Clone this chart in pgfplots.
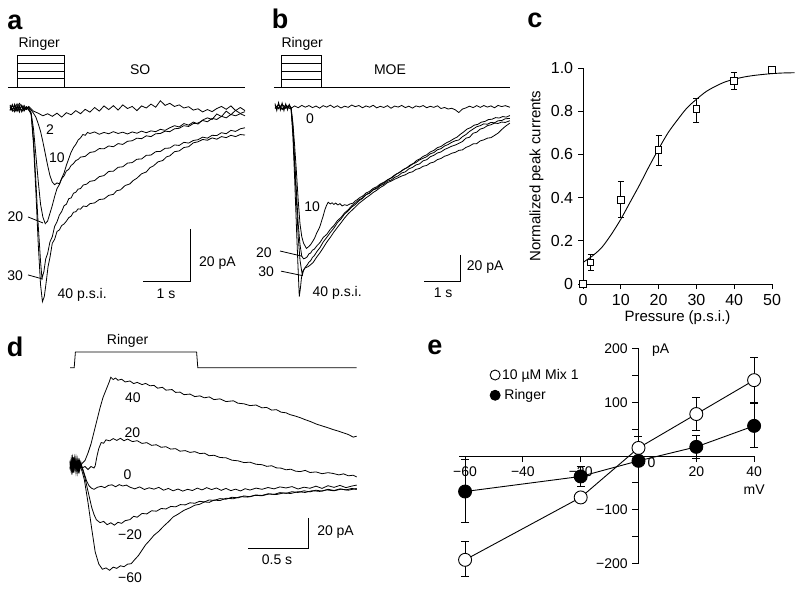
\documentclass[border=0pt]{standalone}
\usepackage{fontspec}
\setmainfont{Liberation Sans}
\usepackage{pgfplots}
\pgfplotsset{compat=1.18}
\begin{document}
\fontsize{14}{16}\selectfont
\begin{tikzpicture}[x=1pt,y=1pt]
\path[use as bounding box] (0,0) rectangle (800,590);
\pgfplotsset{
  trace/.style={scale only axis, hide axis, clip=false, anchor=south west},
  tr/.style={black, line width=0.8pt, no markers},
  /pgf/number format/assume math mode=true,
}
% panel letters
\node[font=\fontsize{27}{27}\selectfont\bfseries] at (15,568) {a};
\node[font=\fontsize{27}{27}\selectfont\bfseries] at (280,571) {b};
\node[font=\fontsize{27}{27}\selectfont\bfseries] at (535,570) {c};
\node[font=\fontsize{27}{27}\selectfont\bfseries] at (15,243) {d};
\node[font=\fontsize{27}{27}\selectfont\bfseries] at (435,243) {e};

% ================= panel a =================
\begin{axis}[trace, at={(10pt,274pt)}, width=235pt, height=234pt,
  xmin=0, xmax=5, ymin=-80, ymax=10]
\addplot[tr] coordinates {(-0.043,8.1)(5.0,8.1)};
\addplot[tr] coordinates {(0.149,8.1)(0.149,20.4)(1.149,20.4)(1.149,8.1)};
\addplot[tr] coordinates {(0.149,17.3)(1.149,17.3)};
\addplot[tr] coordinates {(0.149,14.2)(1.149,14.2)};
\addplot[tr] coordinates {(0.149,11.2)(1.149,11.2)};
\node at (axis cs:0.62,24.6) {Ringer};
\node at (axis cs:2.77,14.6) {SO};
% trace 2
\addplot[tr] coordinates {(0,0.5)(0.1,-1.5)(0.2,1.8)(0.3,-0.8)(0.4,0.6)(0.5,-1.2)(0.6,-2.0)(0.7,-3.0)(0.8,-2.2)(0.9,-3.2)(1.0,-2.0)(1.1,-3.5)(1.2,-1.8)(1.3,-2.6)(1.4,-1.0)(1.5,-2.2)(1.6,-0.5)(1.7,-1.6)(1.8,0.2)(1.9,-1.2)(2.0,0.8)(2.1,-0.6)(2.2,0.9)(2.3,-0.8)(2.4,1.2)(2.5,-0.2)(2.6,0.6)(2.7,-1.0)(2.8,0.8)(2.9,0.0)(3.0,1.5)(3.1,0.3)(3.2,2.8)(3.3,1.0)(3.4,1.8)(3.5,0.6)(3.6,1.2)(3.7,0.0)(3.8,0.5)(3.9,-0.8)(4.0,-0.3)(4.1,-1.5)(4.2,-0.6)(4.3,-1.4)(4.4,-0.2)(4.5,0.6)(4.6,-0.5)(4.7,0.8)(4.8,-1.0)(4.9,0.2)(5.0,-1.0)};
% trace 10
\addplot[tr] coordinates {(0,0.5)(0.05,-1.2)(0.1,1.5)(0.15,-0.8)(0.2,0.9)(0.25,-1.5)(0.3,0.3)(0.35,-0.6)(0.4,0.2)(0.45,-0.8)(0.5,-2)(0.55,-3.5)(0.6,-6)(0.65,-9)(0.7,-13)(0.75,-17.5)(0.8,-22)(0.85,-26)(0.9,-28.5)(0.95,-29.5)(1.0,-28.8)(1.05,-29.2)(1.1,-27)(1.15,-25)(1.2,-22)(1.25,-19.5)(1.3,-17)(1.35,-15.2)(1.4,-14)(1.45,-12.3)(1.5,-11.5)(1.55,-10.2)(1.6,-10.5)(1.65,-9.4)(1.7,-9.8)(1.8,-9.2)(1.9,-10.1)(2.0,-9.4)(2.1,-9.9)(2.2,-9.1)(2.3,-9.8)(2.4,-9.3)(2.5,-10.0)(2.6,-9.2)(2.7,-9.7)(2.8,-8.9)(2.9,-9.5)(3.0,-8.8)(3.1,-9.1)(3.2,-8.2)(3.3,-8.6)(3.4,-7.6)(3.5,-6.8)(3.6,-7.3)(3.7,-6.0)(3.8,-6.6)(3.9,-5.4)(4.0,-6.2)(4.1,-4.6)(4.2,-3.8)(4.3,-4.4)(4.4,-2.3)(4.5,-3.3)(4.6,-1.2)(4.7,-2.6)(4.8,-0.9)(4.9,-2.1)(5.0,-1.4)};
% trace 20
\addplot[tr] coordinates {(0,-0.8)(0.05,1.4)(0.1,-1.0)(0.15,0.6)(0.2,-1.6)(0.25,1.1)(0.3,-0.4)(0.35,0.5)(0.4,-0.9)(0.45,-2)(0.5,-8)(0.55,-18)(0.6,-28)(0.65,-37)(0.7,-42)(0.75,-44.5)(0.8,-43.5)(0.85,-40.5)(0.9,-37.5)(0.95,-34)(1.0,-31)(1.05,-29.5)(1.1,-27.2)(1.15,-26.1)(1.2,-24.2)(1.25,-23.6)(1.3,-22.1)(1.35,-21.4)(1.4,-20.2)(1.45,-19.8)(1.5,-18.9)(1.6,-18.6)(1.7,-17.1)(1.8,-16.8)(1.9,-15.6)(2.0,-15.7)(2.1,-14.6)(2.2,-14.9)(2.3,-13.7)(2.4,-14.0)(2.5,-12.8)(2.6,-12.6)(2.7,-11.6)(2.8,-11.8)(2.9,-10.7)(3.0,-11.0)(3.1,-9.9)(3.2,-9.8)(3.3,-8.9)(3.4,-9.1)(3.5,-8.0)(3.6,-7.8)(3.7,-6.8)(3.8,-7.1)(3.9,-6.0)(4.0,-5.8)(4.1,-4.8)(4.2,-5.3)(4.3,-4.0)(4.4,-4.4)(4.5,-3.2)(4.6,-3.8)(4.7,-2.5)(4.8,-3.0)(4.9,-2.2)(5.0,-3.0)};
% trace 30
\addplot[tr] coordinates {(0,1.2)(0.05,-0.6)(0.1,0.8)(0.15,-1.3)(0.2,0.4)(0.25,-0.9)(0.3,1.0)(0.35,-0.5)(0.4,0.3)(0.45,-2)(0.5,-12)(0.55,-28)(0.6,-45)(0.65,-59)(0.68,-65.5)(0.72,-63)(0.76,-58)(0.8,-56)(0.85,-51.5)(0.9,-49.5)(0.95,-45.5)(1.0,-43.8)(1.05,-41.2)(1.1,-39.8)(1.15,-37.6)(1.2,-37.0)(1.25,-34.9)(1.3,-34.6)(1.35,-32.8)(1.4,-32.4)(1.45,-31.2)(1.5,-31.0)(1.56,-29.6)(1.63,-29.3)(1.7,-28.2)(1.8,-27.9)(1.9,-26.4)(2.0,-26.0)(2.1,-24.4)(2.2,-24.3)(2.3,-22.8)(2.4,-22.6)(2.5,-21.2)(2.6,-21.0)(2.7,-19.7)(2.8,-19.6)(2.9,-18.2)(3.0,-18.1)(3.1,-16.8)(3.2,-16.7)(3.3,-15.5)(3.4,-15.4)(3.5,-14.2)(3.6,-14.4)(3.7,-13.2)(3.8,-13.5)(3.9,-12.5)(4.0,-12.2)(4.1,-11.2)(4.2,-11.6)(4.3,-10.5)(4.4,-10.6)(4.5,-9.5)(4.6,-9.9)(4.7,-8.6)(4.8,-9.0)(4.9,-8.0)(5.0,-7.6)};
% trace 40
\addplot[tr] coordinates {(0,-1.0)(0.05,0.9)(0.1,-0.4)(0.15,1.6)(0.2,-0.7)(0.25,0.8)(0.3,-1.2)(0.35,0.4)(0.4,-0.6)(0.45,-2.5)(0.5,-14)(0.55,-32)(0.6,-52)(0.65,-68)(0.69,-74.5)(0.73,-72.5)(0.77,-67)(0.81,-61)(0.85,-57.5)(0.9,-52)(0.95,-50.5)(1.0,-47.5)(1.05,-46.9)(1.1,-45.2)(1.15,-44.6)(1.2,-43.5)(1.25,-42.2)(1.3,-41.6)(1.35,-40.1)(1.4,-39.9)(1.45,-38.8)(1.5,-38.9)(1.56,-37.7)(1.63,-37.9)(1.7,-36.8)(1.8,-36.5)(1.9,-35.2)(2.0,-35.0)(2.1,-33.6)(2.2,-33.2)(2.27,-31.8)(2.35,-31.5)(2.45,-29.8)(2.55,-29.2)(2.62,-27.9)(2.7,-27.0)(2.8,-25.3)(2.9,-24.6)(2.98,-22.9)(3.05,-22.3)(3.15,-20.7)(3.25,-20.2)(3.33,-18.8)(3.4,-18.4)(3.5,-16.8)(3.6,-16.5)(3.7,-15.2)(3.8,-14.9)(3.9,-13.4)(4.0,-13.0)(4.1,-12.1)(4.2,-12.4)(4.3,-11.5)(4.4,-12.0)(4.5,-11.0)(4.6,-11.4)(4.7,-10.5)(4.8,-11.0)(4.9,-10.2)(5.0,-10.4)};
% labels
\node at (axis cs:0.85,-8.5) {2};
\node at (axis cs:1.0,-19) {10};
\node at (axis cs:0.117,-41.9) {20};
\addplot[tr] coordinates {(0.383,-41.9)(0.70,-44.2)};
\node at (axis cs:0.11,-64.6) {30};
\addplot[tr] coordinates {(0.383,-64.2)(0.70,-65.8)};
\node[anchor=west] at (axis cs:0.91,-72) {40 p.s.i.};
\addplot[tr] coordinates {(3.83,-46.5)(3.83,-66.5)(2.83,-66.5)};
\node[anchor=west] at (axis cs:3.92,-59.5) {20 pA};
\node at (axis cs:3.32,-71.5) {1 s};
\end{axis}

% ================= panel b =================
\begin{axis}[trace, at={(275pt,288.3pt)}, width=235.6pt, height=195pt,
  xmin=0, xmax=6.6, ymin=-150, ymax=0]
\addplot[tr] coordinates {(-0.03,15.2)(6.58,15.2)};
\addplot[tr] coordinates {(0.188,15.2)(0.188,39.8)(1.29,39.8)(1.29,15.2)};
\addplot[tr] coordinates {(0.188,33.6)(1.29,33.6)};
\addplot[tr] coordinates {(0.188,27.4)(1.29,27.4)};
\addplot[tr] coordinates {(0.188,21.3)(1.29,21.3)};
\node at (axis cs:0.76,48.2) {Ringer};
\node at (axis cs:3.22,28.2) {MOE};
% trace 0
\addplot[tr] coordinates {(0,2.5)(0.05,-3)(0.1,3.2)(0.15,-2.6)(0.2,2.8)(0.25,-3.1)(0.3,2.2)(0.35,-2.5)(0.4,1.8)(0.45,-1.2)(0.55,0.6)(0.65,-0.8)(0.75,1.0)(0.85,-0.4)(0.95,0.9)(1.05,-0.7)(1.15,0.5)(1.25,-1.1)(1.35,0.8)(1.45,-0.3)(1.55,1.2)(1.65,-0.6)(1.75,0.7)(1.85,-1.0)(1.95,0.4)(2.05,-0.5)(2.15,1.3)(2.25,0.0)(2.35,0.9)(2.45,-0.8)(2.55,0.6)(2.65,-0.4)(2.75,1.1)(2.85,-0.9)(2.95,0.3)(3.05,-0.6)(3.15,0.8)(3.25,-1.2)(3.35,0.5)(3.45,-0.3)(3.55,1.0)(3.65,-0.7)(3.75,0.4)(3.85,-1.1)(3.95,0.6)(4.05,-0.2)(4.15,0.9)(4.25,-0.8)(4.35,0.3)(4.45,-0.5)(4.55,0.7)(4.65,-1.4)(4.75,-0.6)(4.85,-1.8)(4.95,-1.2)(5.05,-2.4)(5.15,-4.5)(5.25,-1.8)(5.35,-0.9)(5.45,0.4)(5.55,-0.7)(5.65,0.8)(5.75,-0.5)(5.85,0.9)(5.95,-0.3)(6.05,0.6)(6.15,-0.8)(6.25,1.0)(6.35,0.1)(6.45,0.8)(6.58,-0.4)};
% trace 10
\addplot[tr] coordinates {(0,-1.5)(0.1,1.8)(0.2,-2.2)(0.3,1.4)(0.4,-1.0)(0.45,-1)(0.5,-12)(0.55,-30)(0.6,-50)(0.65,-72)(0.7,-90)(0.75,-100)(0.8,-105)(0.88,-109)(0.95,-107.5)(1.0,-106)(1.07,-103)(1.12,-100.5)(1.17,-97)(1.22,-94.5)(1.26,-92)(1.31,-87.5)(1.35,-84)(1.4,-79)(1.45,-75.5)(1.49,-73.5)(1.55,-74.8)(1.6,-73.9)(1.65,-75.2)(1.7,-74.1)(1.76,-75.6)(1.82,-74.6)(1.88,-76.3)(1.95,-75.4)(2.02,-76.0)(2.1,-74.8)(2.19,-74.2)(2.25,-72.4)(2.3,-71.6)(2.38,-69.8)(2.45,-68.9)(2.55,-66.4)(2.65,-65.1)(2.75,-62.8)(2.85,-61.6)(2.95,-59.4)(3.05,-58.1)(3.15,-56.5)(3.25,-54.9)(3.31,-54.0)(3.4,-51.8)(3.5,-50.4)(3.6,-48.2)(3.7,-46.8)(3.78,-45.0)(3.88,-43.6)(3.97,-41.3)(4.06,-40.1)(4.15,-38.2)(4.25,-37.0)(4.35,-34.8)(4.45,-33.6)(4.55,-31.5)(4.65,-30.6)(4.71,-29.4)(4.8,-27.8)(4.9,-26.5)(5.0,-24.8)(5.1,-23.4)(5.18,-21.5)(5.28,-19.5)(5.38,-17.2)(5.48,-16.1)(5.58,-14.2)(5.68,-13.6)(5.78,-11.9)(5.88,-11.3)(5.98,-9.9)(6.08,-9.6)(6.18,-8.4)(6.28,-8.7)(6.38,-7.6)(6.48,-8.0)(6.58,-6.8)};
% trace 20
\addplot[tr] coordinates {(0,1.2)(0.1,-1.6)(0.2,2.0)(0.3,-1.3)(0.4,0.9)(0.45,-1)(0.5,-15)(0.55,-40)(0.6,-65)(0.65,-90)(0.7,-106)(0.75,-115)(0.8,-117)(0.85,-116.5)(0.9,-115.5)(0.95,-113.2)(1.0,-112.5)(1.05,-110.3)(1.1,-109.6)(1.18,-106.8)(1.26,-104.5)(1.35,-100.6)(1.45,-98.2)(1.55,-94.3)(1.65,-91.4)(1.75,-87.6)(1.85,-85.2)(1.95,-81.7)(2.05,-79.3)(2.15,-76.2)(2.25,-74.1)(2.35,-71.6)(2.45,-70.2)(2.55,-67.6)(2.65,-66.3)(2.75,-63.8)(2.85,-62.4)(2.95,-60.1)(3.05,-58.6)(3.15,-56.2)(3.25,-54.8)(3.35,-52.6)(3.45,-51.1)(3.55,-49.3)(3.65,-47.6)(3.75,-46.2)(3.85,-44.2)(3.95,-42.9)(4.05,-40.9)(4.15,-39.7)(4.25,-38.4)(4.35,-36.2)(4.45,-35.3)(4.55,-33.1)(4.65,-32.3)(4.75,-30.2)(4.85,-29.1)(4.95,-27.4)(5.05,-26.2)(5.15,-25.6)(5.25,-23.1)(5.35,-21.4)(5.45,-19.0)(5.55,-17.2)(5.65,-15.4)(5.75,-14.6)(5.85,-13.2)(5.95,-13.5)(6.05,-12.1)(6.15,-12.4)(6.25,-10.8)(6.35,-10.6)(6.45,-9.3)(6.58,-9.0)};
% trace 30
\addplot[tr] coordinates {(0,-0.9)(0.1,1.3)(0.2,-1.8)(0.3,0.8)(0.4,-1.2)(0.45,-1.5)(0.5,-18)(0.55,-45)(0.6,-72)(0.65,-100)(0.7,-118)(0.75,-127)(0.77,-129)(0.8,-126)(0.85,-123.5)(0.9,-121.8)(0.95,-119.6)(1.0,-118.4)(1.05,-115.9)(1.1,-114.6)(1.18,-111.2)(1.26,-108.4)(1.35,-104.1)(1.45,-100.5)(1.55,-96.8)(1.65,-93.4)(1.75,-89.2)(1.85,-86.3)(1.95,-82.5)(2.05,-80.2)(2.15,-77.1)(2.25,-75.3)(2.35,-72.4)(2.45,-70.6)(2.55,-67.8)(2.65,-66.5)(2.75,-64.0)(2.85,-63.1)(2.95,-60.7)(3.05,-59.6)(3.15,-57.3)(3.25,-56.5)(3.35,-54.4)(3.45,-53.2)(3.55,-51.0)(3.65,-50.1)(3.75,-47.8)(3.85,-46.7)(3.95,-44.8)(4.05,-44.0)(4.15,-41.6)(4.25,-40.8)(4.35,-38.5)(4.45,-37.4)(4.55,-35.6)(4.65,-34.8)(4.75,-32.9)(4.85,-31.7)(4.95,-30.4)(5.05,-29.5)(5.15,-28.2)(5.25,-26.8)(5.35,-24.2)(5.45,-23.5)(5.55,-20.4)(5.65,-19.6)(5.75,-17.2)(5.85,-16.4)(5.95,-14.6)(6.05,-13.9)(6.15,-12.6)(6.25,-12.9)(6.35,-11.8)(6.45,-12.1)(6.58,-10.8)};
% trace 40
\addplot[tr] coordinates {(0,0.8)(0.1,-1.1)(0.2,1.5)(0.3,-0.7)(0.4,1.0)(0.45,-1.5)(0.5,-22)(0.55,-55)(0.6,-92)(0.64,-120)(0.68,-146)(0.71,-140)(0.74,-132)(0.77,-127)(0.8,-125.5)(0.84,-124)(0.88,-123.6)(0.93,-123)(1.0,-121.5)(1.07,-119.8)(1.15,-116.4)(1.26,-112.3)(1.35,-108.6)(1.45,-104.2)(1.55,-100.5)(1.65,-96.4)(1.75,-92.8)(1.85,-89.3)(1.95,-85.6)(2.05,-82.4)(2.15,-79.8)(2.25,-77.2)(2.35,-74.4)(2.45,-72.3)(2.55,-70.1)(2.65,-68.2)(2.75,-66.0)(2.85,-64.3)(2.95,-62.1)(3.05,-60.6)(3.15,-58.4)(3.25,-57.3)(3.35,-55.8)(3.45,-54.6)(3.55,-53.3)(3.65,-52.4)(3.75,-50.8)(3.85,-50.1)(3.95,-48.2)(4.05,-47.5)(4.15,-45.8)(4.25,-45.2)(4.35,-43.3)(4.45,-42.6)(4.55,-40.7)(4.65,-39.8)(4.75,-38.1)(4.85,-37.2)(4.95,-35.8)(5.05,-35.1)(5.15,-33.6)(5.25,-33.2)(5.35,-31.3)(5.45,-30.2)(5.55,-28.6)(5.65,-28.4)(5.75,-26.3)(5.85,-25.5)(5.95,-24.2)(6.05,-23.8)(6.15,-22.1)(6.25,-20.3)(6.35,-17.6)(6.45,-15.2)(6.58,-12.6)};
\node at (axis cs:0.98,-9.5) {0};
\node at (axis cs:1.04,-77) {10};
\node at (axis cs:-0.31,-112.5) {20};
\addplot[tr] coordinates {(0.14,-111)(0.76,-115)};
\node at (axis cs:-0.25,-127) {30};
\addplot[tr] coordinates {(0.17,-126.5)(0.78,-130)};
\node[anchor=west] at (axis cs:0.92,-143.5) {40 p.s.i.};
\addplot[tr] coordinates {(5.18,-114)(5.18,-134)(4.18,-134)};
\node[anchor=west] at (axis cs:5.24,-123.6) {20 pA};
\node at (axis cs:4.71,-143.5) {1 s};
\end{axis}

% ================= panel c =================
\begin{axis}[scale only axis, clip=false, anchor=south west, at={(583pt,306pt)},
  width=189pt, height=216pt, xmin=0, xmax=50, ymin=0, ymax=1,
  axis x line*=bottom, axis y line*=left,
  axis line style={-, line width=0.9pt},
  tick align=outside, major tick length=5pt,
  tick style={black, line width=0.9pt},
  xtick={0,10,20,30,40,50}, ytick={0,0.2,0.4,0.6,0.8,1.0},
  yticklabels={0,0.2,0.4,0.6,0.8,1.0},
  tick label style={font=\fontsize{16}{18}\selectfont},
  label style={font=\fontsize{15}{17}\selectfont},
  xlabel={Pressure (p.s.i.)}, ylabel={Normalized peak currents},
  xlabel style={yshift=4pt}, ylabel style={yshift=-2pt}]
\addplot[black, line width=0.9pt, no markers, smooth] coordinates {(0,0.10)(2.5,0.13)(5,0.17)(7.5,0.23)(10,0.30)(12.5,0.38)(15,0.46)(17.5,0.545)(20,0.625)(22.5,0.70)(25,0.76)(27.5,0.815)(30,0.855)(32.5,0.89)(35,0.915)(37.5,0.935)(40,0.948)(42.5,0.958)(45,0.965)(47.5,0.97)(50,0.974)(53,0.977)(56,0.978)};
\addplot[black, line width=0.9pt, only marks, mark=square*, mark size=3.3pt,
  mark options={fill=white, draw=black, line width=0.9pt},
  error bars/.cd, y dir=both, y explicit,
  error bar style={line width=0.9pt},
  error mark options={rotate=90, mark size=3pt, line width=0.9pt}]
  table[x=x, y=y, y error plus=ep, y error minus=em] {
x y ep em
0 0.0 0 0
2 0.10 0.035 0.035
10 0.39 0.085 0.08
20 0.62 0.07 0.07
30 0.81 0.05 0.06
40 0.94 0.04 0.04
50 0.99 0.01 0.01
};
\end{axis}

% ================= panel d =================
\begin{axis}[trace, at={(70pt,12.5pt)}, width=288pt, height=202.5pt,
  xmin=0, xmax=2.4, ymin=-75, ymax=60]
\addplot[tr] coordinates {(0,64.9)(0.035,64.9)(0.045,75.3)(1.055,75.3)(1.065,64.9)(2.389,64.9)};
\node at (axis cs:0.48,83) {Ringer};
% 40
\addplot[tr] coordinates {(0,3)(0.01,-4)(0.02,5)(0.03,-2)(0.04,4)(0.05,-5)(0.06,2)(0.07,-3)(0.08,3)(0.09,-1)(0.1,1)(0.125,3)(0.15,8)(0.175,14)(0.2,22)(0.225,30)(0.25,38)(0.275,45)(0.3,50)(0.325,55)(0.34,58.5)(0.36,57)(0.38,58)(0.4,56.5)(0.43,57.2)(0.46,55.4)(0.5,56.0)(0.53,54.3)(0.56,55.1)(0.6,53.6)(0.63,54.4)(0.667,52.8)(0.7,53.1)(0.73,51.2)(0.77,51.8)(0.8,49.9)(0.85,50.3)(0.88,48.4)(0.917,48.6)(0.95,46.9)(1.0,47.3)(1.04,45.6)(1.083,46.1)(1.12,44.8)(1.16,45.4)(1.2,43.6)(1.25,44.1)(1.3,42.3)(1.361,42.8)(1.4,41.2)(1.45,40.8)(1.5,39.6)(1.55,40.0)(1.6,38.1)(1.639,38.4)(1.68,36.6)(1.72,36.9)(1.76,35.2)(1.8,34.8)(1.833,33.6)(1.87,32.8)(1.917,31.6)(1.96,30.2)(2.0,29.1)(2.056,27.2)(2.1,26.1)(2.15,24.8)(2.194,23.6)(2.24,22.5)(2.28,21.4)(2.32,20.3)(2.36,18.6)(2.389,19.2)};
% 20
\addplot[tr] coordinates {(0,-3)(0.01,4)(0.02,-5)(0.03,3)(0.04,-2)(0.05,5)(0.06,-3)(0.07,2)(0.08,-4)(0.09,1)(0.1,-2)(0.125,-1)(0.15,-3)(0.175,-1)(0.2,-2)(0.21,-0.5)(0.225,6)(0.24,11)(0.26,15)(0.28,14.5)(0.3,16.8)(0.33,16.1)(0.36,17.6)(0.39,16.4)(0.42,17.8)(0.45,16.2)(0.48,17.3)(0.52,15.6)(0.56,16.2)(0.6,14.4)(0.64,14.9)(0.68,13.1)(0.72,13.5)(0.76,11.8)(0.8,12.2)(0.84,10.6)(0.88,10.9)(0.917,9.2)(0.96,9.6)(1.0,8.4)(1.04,8.9)(1.083,7.6)(1.12,7.9)(1.16,6.2)(1.2,6.5)(1.25,5.0)(1.3,4.8)(1.35,3.2)(1.4,2.8)(1.45,1.6)(1.5,1.9)(1.55,0.5)(1.6,0.2)(1.64,-0.9)(1.68,-0.5)(1.72,-1.9)(1.76,-2.1)(1.8,-3.2)(1.84,-2.8)(1.88,-4.1)(1.92,-4.4)(1.96,-3.6)(2.0,-5.0)(2.05,-4.6)(2.1,-5.8)(2.15,-5.1)(2.19,-5.6)(2.24,-6.6)(2.28,-5.9)(2.32,-7.2)(2.36,-6.8)(2.389,-8.0)};
% 0
\addplot[tr] coordinates {(0,2)(0.01,-3)(0.02,4)(0.03,-5)(0.04,3)(0.05,-2)(0.06,4)(0.07,-4)(0.08,1)(0.09,-2)(0.1,-1)(0.12,-6)(0.14,-11)(0.16,-14)(0.18,-15.5)(0.2,-16.2)(0.23,-14.8)(0.26,-14.2)(0.29,-15.1)(0.32,-13.6)(0.35,-13.2)(0.38,-14.5)(0.41,-13.1)(0.44,-14.0)(0.47,-13.4)(0.5,-14.8)(0.54,-15.9)(0.58,-14.6)(0.62,-16.3)(0.66,-15.2)(0.7,-16.1)(0.74,-14.9)(0.78,-16.8)(0.82,-15.6)(0.86,-17.2)(0.9,-16.0)(0.94,-17.4)(0.98,-16.2)(1.02,-17.0)(1.06,-15.4)(1.1,-16.6)(1.14,-15.1)(1.18,-16.4)(1.22,-15.3)(1.26,-16.9)(1.3,-15.6)(1.34,-17.1)(1.38,-16.1)(1.42,-17.3)(1.46,-15.8)(1.5,-16.7)(1.55,-15.4)(1.6,-16.2)(1.65,-15.0)(1.7,-15.9)(1.75,-14.6)(1.8,-15.3)(1.85,-14.4)(1.9,-16.0)(1.95,-14.8)(2.0,-15.5)(2.05,-14.1)(2.1,-15.6)(2.15,-13.8)(2.2,-14.9)(2.25,-13.6)(2.3,-15.1)(2.35,-14.0)(2.389,-13.4)};
% -20
\addplot[tr] coordinates {(0,-2)(0.01,3)(0.02,-4)(0.03,5)(0.04,-3)(0.05,2)(0.06,-5)(0.07,3)(0.08,-1)(0.09,2)(0.1,-2)(0.12,-7)(0.14,-14)(0.16,-21)(0.18,-28)(0.2,-33)(0.22,-36.5)(0.25,-38.4)(0.28,-37.6)(0.31,-39.8)(0.34,-38.5)(0.37,-40.1)(0.4,-38.2)(0.43,-38.9)(0.46,-37.1)(0.5,-36.4)(0.53,-34.2)(0.56,-34.8)(0.6,-32.3)(0.64,-32.6)(0.68,-30.5)(0.72,-30.8)(0.76,-29.0)(0.8,-29.3)(0.84,-27.6)(0.88,-27.9)(0.92,-26.4)(0.96,-26.6)(1.0,-25.2)(1.04,-25.5)(1.08,-24.2)(1.12,-24.6)(1.16,-23.3)(1.2,-23.6)(1.25,-22.4)(1.3,-22.8)(1.35,-21.5)(1.4,-21.9)(1.45,-20.6)(1.5,-21.2)(1.55,-20.0)(1.6,-20.3)(1.65,-19.2)(1.7,-19.6)(1.75,-18.4)(1.8,-18.9)(1.85,-17.8)(1.9,-18.3)(1.95,-17.2)(2.0,-17.9)(2.05,-16.8)(2.1,-17.4)(2.15,-16.2)(2.2,-17.0)(2.25,-15.9)(2.3,-16.6)(2.35,-15.6)(2.389,-16.4)};
% -60
\addplot[tr] coordinates {(0,1)(0.01,-4)(0.02,3)(0.03,-2)(0.04,5)(0.05,-3)(0.06,2)(0.07,-4)(0.08,0)(0.1,-4)(0.12,-10)(0.15,-25)(0.18,-42)(0.21,-58)(0.24,-66)(0.27,-69.5)(0.3,-68.6)(0.33,-70.2)(0.36,-68.1)(0.39,-68.9)(0.42,-67.2)(0.45,-67.8)(0.48,-66.1)(0.51,-65.8)(0.54,-63.0)(0.57,-60.4)(0.6,-56.8)(0.63,-53.2)(0.66,-50.6)(0.7,-46.8)(0.74,-44.2)(0.78,-40.8)(0.82,-37.9)(0.86,-34.6)(0.9,-32.8)(0.95,-30.2)(1.0,-28.5)(1.04,-26.8)(1.08,-26.2)(1.12,-24.6)(1.16,-24.9)(1.2,-23.4)(1.25,-23.7)(1.3,-22.2)(1.36,-22.5)(1.42,-21.1)(1.48,-21.4)(1.54,-20.2)(1.6,-20.5)(1.66,-19.3)(1.72,-19.7)(1.78,-18.6)(1.84,-19.0)(1.9,-17.8)(1.96,-18.3)(2.02,-17.1)(2.08,-17.6)(2.14,-16.6)(2.2,-17.2)(2.26,-16.1)(2.32,-16.8)(2.389,-15.6)};
\node at (axis cs:0.525,44.7) {40};
\node at (axis cs:0.52,21.3) {20};
\node at (axis cs:0.48,-6.7) {0};
\node at (axis cs:0.5,-46.7) {−20};
\node at (axis cs:0.5,-75.3) {−60};
\addplot[tr] coordinates {(1.983,-35.3)(1.983,-55.3)(1.483,-55.3)};
\node[anchor=west] at (axis cs:2.02,-44.7) {20 pA};
\node at (axis cs:1.725,-63) {0.5 s};
\end{axis}

% ================= panel e =================
\begin{axis}[scale only axis, clip=false, anchor=south west, at={(459.3pt,26.4pt)},
  width=294.8pt, height=215.2pt, xmin=-62, xmax=40, ymin=-200, ymax=200,
  axis lines=middle, axis line style={-, line width=0.9pt},
  xtick={-60,-40,-20,20,40}, xticklabels={−60,−40,−20,20,40},
  ytick={-200,-100,100,200}, yticklabels={−200,−100,100,200},
  minor ytick={-150,-50,50,150},
  tick align=outside, major tick length=6pt, minor tick length=6pt,
  tick style={black, line width=0.9pt},
  tick label style={font=\fontsize{14}{16}\selectfont},
  legend style={draw=none, fill=none, at={(axis cs:-51.4,166)}, anchor=north west,
    font=\fontsize{14}{16}\selectfont, row sep=4pt, inner sep=0pt},
  legend cell align=left,
  legend image code/.code={\draw[#1, mark size=5pt] plot coordinates {(0.2cm,0cm)};}]
\addplot[black, line width=0.9pt, mark=*, mark size=6.5pt,
  mark options={fill=white, draw=black, line width=0.9pt},
  error bars/.cd, y dir=both, y explicit,
  error bar style={line width=0.9pt},
  error mark options={rotate=90, mark size=4pt, line width=0.9pt}]
  table[x=x, y=y, y error plus=ep, y error minus=em] {
x y ep em
-60 -193 34 30
-20 -77 6 6
0 15 22 22
20 78 30 30
40 141 42 42
};
\addlegendentry{10 µM Mix 1}
\addplot[black, line width=0.9pt, mark=*, mark size=6.5pt,
  mark options={fill=black, draw=black},
  error bars/.cd, y dir=both, y explicit,
  error bar style={line width=0.9pt},
  error mark options={rotate=90, mark size=4pt, line width=0.9pt}]
  table[x=x, y=y, y error plus=ep, y error minus=em] {
x y ep em
-60 -66 60 58
-20 -38 19 18
0 -9 5 5
20 17 21 21
40 56 42 40
};
\addlegendentry{\,Ringer}
\node[anchor=west] at (axis cs:1.5,-12) {0};
\node[anchor=west] at (axis cs:3,197) {pA};
\node at (axis cs:40,-62) {mV};
\end{axis}
\end{tikzpicture}
\end{document}
